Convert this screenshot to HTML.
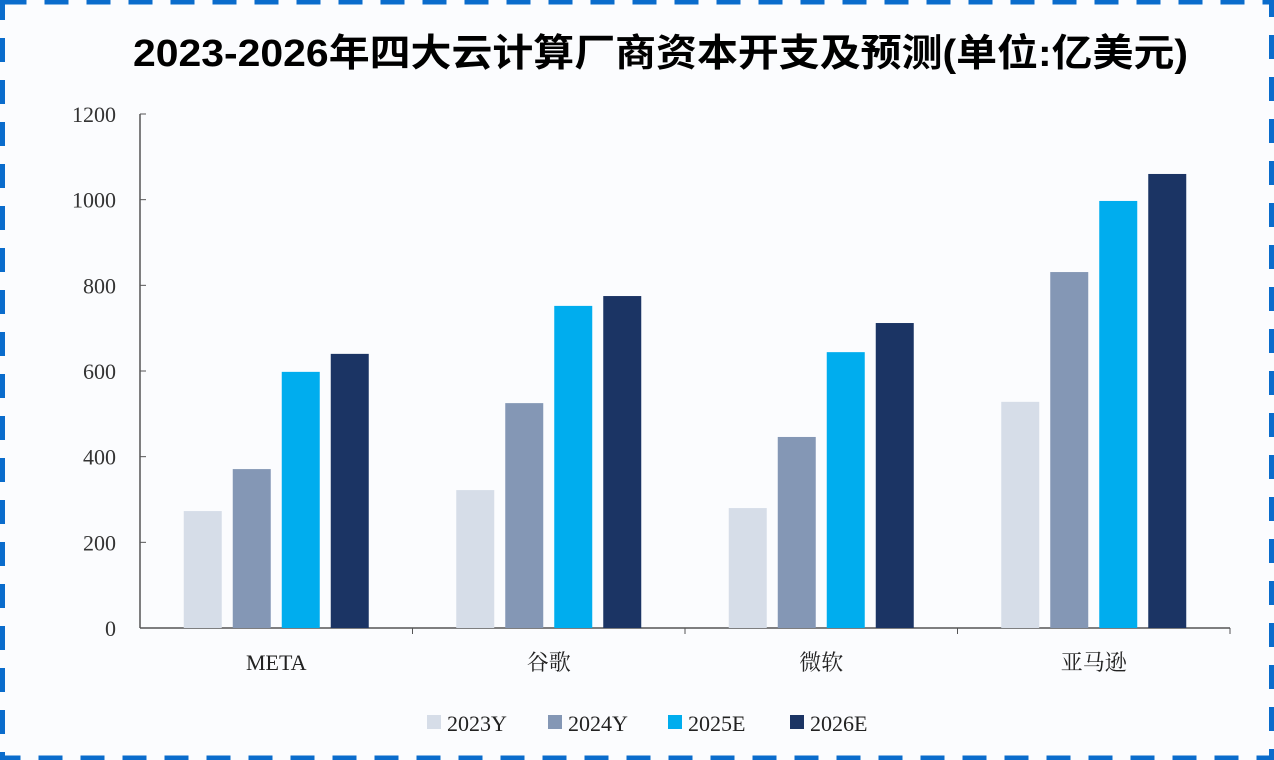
<!DOCTYPE html>
<html><head><meta charset="utf-8"><style>
body{margin:0;background:#fff;}
svg{display:block;font-family:"Liberation Serif","Noto Serif CJK SC",serif;}
</style></head><body>
<svg id="c" width="1274" height="760" viewBox="0 0 1274 760">
<rect x="0" y="0" width="1274" height="760" fill="#fbfcfe"/>
<rect x="2.5" y="2" width="1269" height="756" fill="none" stroke="#0a6ccc" stroke-width="5" stroke-dasharray="24 18"/>
<text x="133" y="66" textLength="1055" lengthAdjust="spacingAndGlyphs" font-size="38" font-weight="bold" font-family="Liberation Sans,Noto Sans CJK SC,sans-serif" fill="#000">2023-2026年四大云计算厂商资本开支及预测(单位:亿美元)</text>
<g id="plot"></g>
</svg>
<script>
const categories=["META","谷歌","微软","亚马逊"];
const seriesNames=["2023Y","2024Y","2025E","2026E"];
const s2023=[273,322,280,528];
const s2024=[371,525,446,831];
const s2025=[598,752,644,997];
const s2026=[640,775,712,1060];
const yTicks=[0,200,400,600,800,1000,1200];
const colors=["#d6dde8","#8497b5","#00adee","#1b3464"];
const series=[s2023,s2024,s2025,s2026];
const NS="http://www.w3.org/2000/svg";
const g=document.getElementById('plot');
const x0=140,x1=1230,yBase=628,yTop=114,yMax=1200;
const y=v=>yBase-(v/yMax)*(yBase-yTop);
const bandW=(x1-x0)/categories.length;
function mk(t,a){const e=document.createElementNS(NS,t);for(const k in a)e.setAttribute(k,a[k]);g.appendChild(e);return e;}
let ax=mk('line',{x1:x0,y1:yTop,x2:x0,y2:yBase,stroke:'#555','stroke-width':1.5});


yTicks.forEach(t=>{
 let tk=mk('line',{x1:x0,y1:y(t),x2:x0+6,y2:y(t),stroke:'#555'});
 
 
 let tx=mk('text',{x:116,y:y(t)+8,'text-anchor':'end','font-size':22,fill:'#333'});
 tx.textContent=t;
 
 
});
let xa=mk('line',{x1:x0,y1:yBase,x2:x1,y2:yBase,stroke:'#555','stroke-width':1.5});


const barW=38,step=49;
categories.forEach((c,i)=>{
 const cx=x0+bandW*(i+0.5);
 let tk=mk('line',{x1:x0+bandW*(i+1),y1:yBase,x2:x0+bandW*(i+1),y2:yBase+6,stroke:'#555'});
 
 
 series.forEach((s,j)=>{
  const bx=cx-1.5*step-barW/2+j*step;
  let r=mk('rect',{x:bx,y:y(s[i]),width:barW,height:yBase-y(s[i]),fill:colors[j]});
  
  
 });
 let tx=mk('text',{x:cx,y:670,'text-anchor':'middle','font-size':22,fill:'#222'});
 tx.textContent=c;
 
 
});
const lx=[427,548,668,790];
seriesNames.forEach((n,j)=>{
 let r=mk('rect',{x:lx[j],y:715,width:14,height:14,fill:colors[j]});
 
 
 let t=mk('text',{x:lx[j]+20,y:731,'font-size':22,fill:'#222'});
 t.textContent=n;
 
 
});
</script>
</body></html>
